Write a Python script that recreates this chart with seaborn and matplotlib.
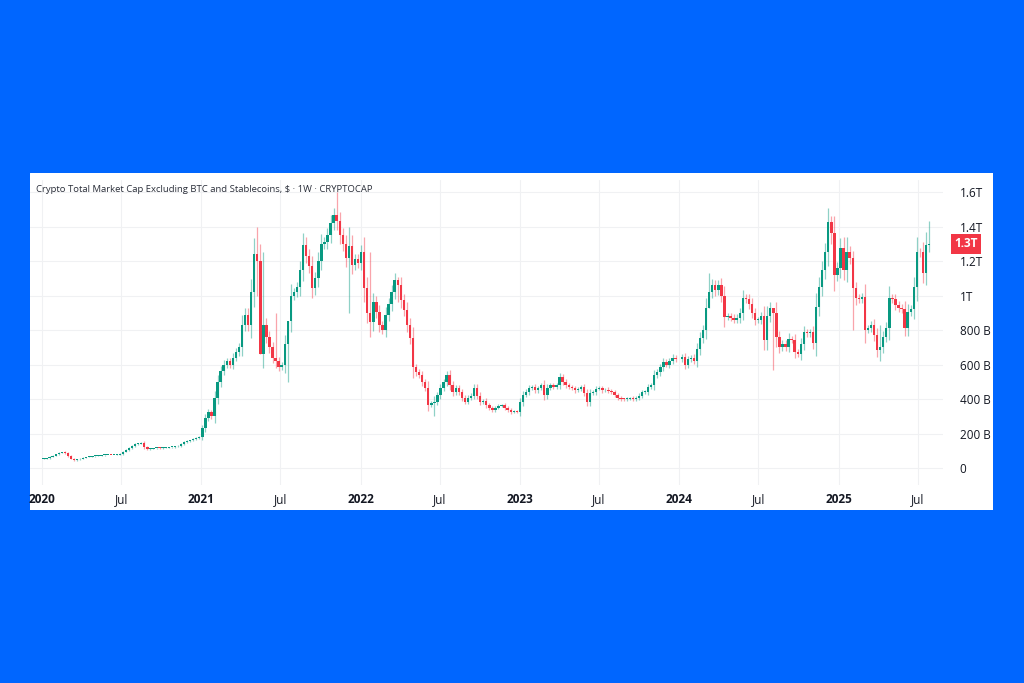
import matplotlib
matplotlib.use("Agg")
import matplotlib.pyplot as plt
import numpy as np
import pandas as pd
import seaborn as sns
from matplotlib.ticker import FuncFormatter

# weekly closes in billions USD, one list per calendar year
close_2020 = [55, 58, 65, 72, 80, 88, 92, 85, 70, 55, 45, 50, 55, 60, 64, 66, 68, 70, 72, 74,
              75, 76, 75, 76, 78, 82, 95, 105, 115, 128, 138, 142, 145, 120, 110, 112, 115, 116,
              114, 116, 118, 120, 120, 125, 130, 140, 150, 155, 160, 170, 175, 180]
close_2021 = [230, 290, 325, 300, 405, 500, 560, 600, 620, 600, 640, 672, 700, 830, 890, 830,
              1020, 1240, 1200, 660, 830, 760, 700, 640, 620, 585, 600, 720, 850, 1000, 1020,
              1050, 1150, 1293, 1230, 1170, 1043, 1100, 1200, 1300, 1310, 1350, 1420, 1467, 1430,
              1350, 1300, 1217, 1290, 1180, 1210, 1190]
close_2022 = [1250, 1043, 900, 846, 962, 904, 829, 800, 887, 950, 1020, 1090, 1060, 974, 916, 829,
              754, 585, 556, 540, 498, 464, 365, 377, 383, 423, 464, 498, 539, 481, 441, 464, 440,
              406, 383, 406, 420, 464, 420, 383, 390, 365, 348, 336, 350, 360, 365, 350, 336, 325,
              330, 325]
close_2023 = [380, 423, 441, 464, 470, 450, 464, 481, 423, 464, 481, 470, 481, 527, 500, 481, 470,
              464, 450, 460, 470, 435, 383, 435, 440, 460, 464, 450, 455, 445, 440, 423, 406, 400,
              398, 402, 405, 400, 406, 420, 440, 441, 470, 481, 539, 556, 585, 614, 600, 620, 640,
              630]
close_2024 = [643, 600, 630, 640, 620, 690, 754, 800, 927, 1020, 1061, 1030, 1060, 1000, 875, 880,
              870, 860, 870, 900, 985, 980, 950, 900, 858, 860, 880, 742, 880, 930, 900, 760, 700,
              720, 700, 750, 740, 672, 660, 720, 788, 780, 790, 725, 933, 1050, 1148, 1250, 1426,
              1362, 1119, 1160]
close_2025 = [1275, 1150, 1250, 1217, 1043, 985, 980, 990, 800, 810, 830, 771, 684, 700, 760, 812,
              985, 980, 945, 930, 920, 812, 904, 920, 1049, 1252, 1250, 1131, 1293, 1300]
years = [2020, 2021, 2022, 2023, 2024, 2025]
closes_by_year = [close_2020, close_2021, close_2022, close_2023, close_2024, close_2025]

# notable wick extremes (week date -> high, low)
wick_dates = ["2021-05-09", "2021-05-16", "2021-05-23", "2021-06-20", "2021-07-18", "2021-11-07",
              "2021-12-05", "2022-01-23", "2022-03-27", "2022-06-19", "2024-03-10", "2024-08-04",
              "2024-12-15", "2025-01-19", "2025-02-02", "2025-04-06", "2025-07-27", "2025-08-03"]
wick_highs = [1400, 1300, 1250, 900, 700, 1600, 1400, 1250, 1110, 420, 1130, 900,
              1460, 1340, 1260, 830, 1300, 1430]
wick_lows = [1000, 900, 580, 580, 500, 1380, 900, 760, 960, 300, 980, 570,
             1300, 1080, 800, 620, 1100, 1250]
last_label = "1.3T"

frames = []
for yr, cl in zip(years, closes_by_year):
    d = pd.date_range(f"{yr}-01-01", periods=len(cl), freq="W-SUN")
    frames.append(pd.DataFrame({"date": d, "close": cl}))
df = pd.concat(frames, ignore_index=True)
df["open"] = df["close"].shift(1).fillna(df["close"].iloc[0] * 0.97)
top = df[["open", "close"]].max(axis=1)
bot = df[["open", "close"]].min(axis=1)
df["high"] = top + (top - bot) * 0.3 + top * 0.02
df["low"] = bot - (top - bot) * 0.3 - bot * 0.02
for d, h, l in zip(wick_dates, wick_highs, wick_lows):
    m = (df["date"] - pd.Timestamp(d)).abs().idxmin()
    df.loc[m, "high"] = max(h, top[m])
    df.loc[m, "low"] = min(l, bot[m])

sns.set_theme(style="whitegrid")
plt.rcParams["font.family"] = ["Open Sans", "DejaVu Sans"]

green, red = "#089981", "#F23645"
fig = plt.figure(figsize=(10.24, 6.83), dpi=100, facecolor="#0066FF")
panel = fig.add_axes([30 / 1024, 1 - 510 / 683, 963 / 1024, 337 / 683], zorder=0)
panel.set_axis_off()
panel.add_patch(plt.Rectangle((0, 0), 1, 1, transform=panel.transAxes, color="white"))
ax = fig.add_axes([30 / 1024, 1 - 485 / 683, 913 / 1024, 305 / 683], zorder=1)
ax.patch.set_alpha(0)

up = df["close"] >= df["open"]
cols = np.where(up, green, red)
ax.vlines(df["date"], df["low"], df["high"], colors=cols, linewidth=0.9, alpha=0.45, zorder=2)
ax.bar(df["date"], (df["close"] - df["open"]).abs().clip(lower=5), bottom=bot,
       width=5.5, color=cols, linewidth=0, zorder=3)

ax.set_ylim(-98.6, 1670)
ax.set_xlim(pd.Timestamp("2019-12-05"), pd.Timestamp("2025-08-28"))
ax.yaxis.tick_right()
ax.set_yticks([0, 200, 400, 600, 800, 1000, 1200, 1400, 1600])


def fmt(v, _):
    if v == 0:
        return "0"
    if v >= 1000:
        return f"{v / 1000:g}T"
    return f"{v:.0f} B"


ax.yaxis.set_major_formatter(FuncFormatter(fmt))
ticks = []
labels = []
for yr in years:
    ticks += [pd.Timestamp(f"{yr}-01-01"), pd.Timestamp(f"{yr}-07-01")]
    labels += [str(yr), "Jul"]
ax.set_xticks(ticks)
ax.set_xticklabels(labels)
for t in ax.get_xticklabels():
    if t.get_text() != "Jul":
        t.set_fontweight("bold")
ax.tick_params(axis="both", labelsize=8.5, colors="#131722", length=0, pad=6)
ax.tick_params(axis="y", pad=12)
ax.grid(True, color="#F0F1F3", linewidth=0.8)
for s in ax.spines.values():
    s.set_visible(False)

ax.text(0.007, 0.985, "Crypto Total Market Cap Excluding BTC and Stablecoins, $ · 1W · CRYPTOCAP",
        transform=ax.transAxes, fontsize=6.8, color="#2A2E39", va="top")
ax.annotate(last_label, xy=(1.0, df["close"].iloc[-1]), xycoords=("axes fraction", "data"),
            xytext=(8, 0), textcoords="offset points", va="center", ha="left",
            fontsize=8.5, fontweight="bold", color="white",
            bbox=dict(boxstyle="square,pad=0.3", fc=red, ec="none"))

fig.savefig("out.png", dpi=100, facecolor=fig.get_facecolor())
